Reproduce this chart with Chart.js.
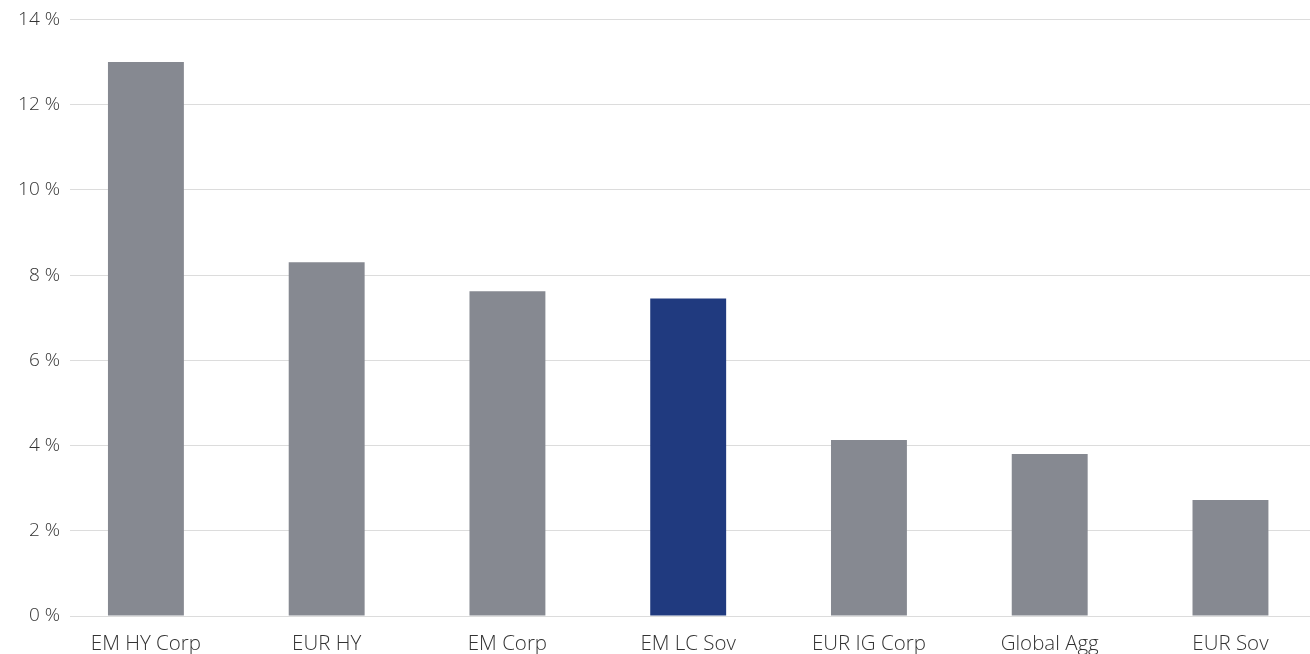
<!DOCTYPE html>
<html>
<head>
<meta charset="utf-8">
<script src="https://cdn.jsdelivr.net/npm/chart.js@4/dist/chart.umd.min.js"></script>
<style>
  html, body { margin: 0; padding: 0; background: #fff; }
  #wrap { width: 1310px; height: 654px; }
</style>
</head>
<body>
<div id="wrap"><canvas id="grafico"></canvas></div>
<script>
const categorias = ['EM HY Corp', 'EUR HY', 'EM Corp', 'EM LC Sov', 'EUR IG Corp', 'Global Agg', 'EUR Sov'];
const valores = [13.0, 8.3, 7.62, 7.45, 4.13, 3.8, 2.72];
const coresBarras = ['#868991', '#868991', '#868991', '#203a7f', '#868991', '#868991', '#868991'];
const ticksY = [0, 2, 4, 6, 8, 10, 12, 14];

const fonte = "'Open Sans', sans-serif";

const ctx = document.getElementById('grafico').getContext('2d');
new Chart(ctx, {
    type: 'bar',
    data: {
        datasets: [{
            data: valores.map((v, i) => ({ x: i, y: v })),
            backgroundColor: coresBarras,
            borderWidth: 0,
            barPercentage: 0.42,
            categoryPercentage: 1
        }]
    },
    options: {
        responsive: true,
        maintainAspectRatio: false,
        animation: false,
        layout: { padding: { top: 19, right: 0, left: 0, bottom: 0 } },
        plugins: {
            legend: { display: false },
            tooltip: { enabled: false }
        },
        scales: {
            x: {
                type: 'linear',
                offset: false,
                min: -0.42,
                max: 6.44,
                grid: { display: false },
                border: { display: false },
                afterBuildTicks: (scale) => {
                    scale.ticks = categorias.map((c, i) => ({ value: i }));
                },
                afterFit: (scale) => { scale.height = 38; },
                ticks: {
                    autoSkip: false,
                    maxRotation: 0,
                    padding: 8,
                    color: '#333',
                    font: { family: fonte, size: 20.5, weight: 300 },
                    callback: (v) => categorias[v]
                }
            },
            y: {
                min: 0,
                max: 14,
                afterBuildTicks: (scale) => {
                    scale.ticks = ticksY.map(v => ({ value: v }));
                },
                afterFit: (scale) => { scale.width = 70; },
                grid: { color: '#dcdcdc', lineWidth: 1, drawTicks: false },
                border: { display: false },
                ticks: {
                    padding: 10,
                    color: '#333',
                    font: { family: fonte, size: 19, weight: 300, lineHeight: 1 },
                    callback: (v) => v + ' %'
                }
            }
        }
    }
});
</script>
</body>
</html>
